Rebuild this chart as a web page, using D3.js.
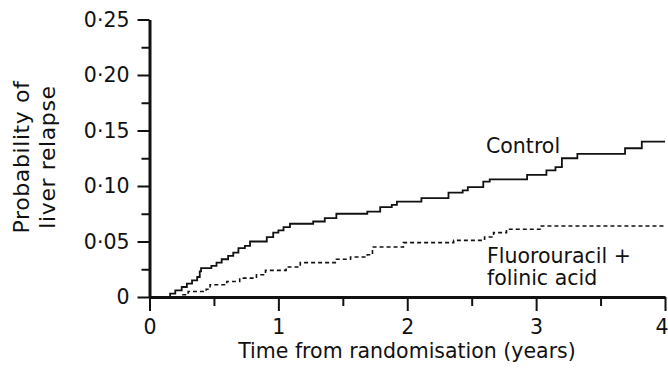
<!DOCTYPE html>
<html>
<head>
<meta charset="utf-8">
<script src="https://cdn.jsdelivr.net/npm/d3@7"></script>
<style>
  body { margin: 0; background: #fff; }
  svg text { font-family: "DejaVu Sans", sans-serif; fill: #111; }
</style>
</head>
<body>
<div id="canvas"></div>
<script>
// control arm (years, probability)
var controlTime = [0, 0.08, 0.16, 0.20, 0.25, 0.29, 0.33, 0.37, 0.39, 0.40, 0.48, 0.52, 0.56, 0.61, 0.65, 0.69, 0.74, 0.78, 0.91, 0.96, 1.00, 1.04, 1.09, 1.27, 1.36, 1.45, 1.69, 1.79, 1.88, 1.92, 2.11, 2.32, 2.43, 2.47, 2.59, 2.64, 2.93, 3.08, 3.15, 3.20, 3.32, 3.69, 3.82, 4.0]
var controlProb = [0, 0, 0.003, 0.006, 0.009, 0.012, 0.015, 0.018, 0.023, 0.026, 0.028, 0.031, 0.034, 0.037, 0.040, 0.044, 0.046, 0.050, 0.054, 0.058, 0.060, 0.063, 0.066, 0.068, 0.071, 0.075, 0.077, 0.081, 0.083, 0.086, 0.089, 0.094, 0.096, 0.099, 0.104, 0.106, 0.110, 0.114, 0.117, 0.125, 0.129, 0.134, 0.140, 0.140]

// fluorouracil + folinic acid arm
var fufaTime = [0, 0.16, 0.26, 0.30, 0.44, 0.47, 0.60, 0.70, 0.83, 0.90, 1.06, 1.17, 1.45, 1.56, 1.69, 1.73, 1.97, 2.36, 2.60, 2.67, 2.77, 3.03, 4.0]
var fufaProb = [0, 0, 0.002, 0.005, 0.007, 0.011, 0.014, 0.017, 0.020, 0.024, 0.027, 0.031, 0.034, 0.036, 0.038, 0.045, 0.049, 0.051, 0.054, 0.058, 0.061, 0.064, 0.064]

var yMajor = [0, 0.05, 0.10, 0.15, 0.20, 0.25]
var yMinor = [0.025, 0.075, 0.125, 0.175, 0.225]
var xMajor = [0, 1, 2, 3, 4]
var xMinor = [0.5, 1.5, 2.5, 3.5]

var width = 668
var height = 373
var plotLeft = 149.5, plotRight = 665, plotTop = 19.5, plotBottom = 297
var fontSize = 20.5

var svg = d3.select("#canvas")
    .append("svg")
    .attr("width", width)
    .attr("height", height)

var xScale = d3.scaleLinear().domain([0, 4]).range([plotLeft, plotRight])
var yScale = d3.scaleLinear().domain([0, 0.25]).range([plotBottom, plotTop])

function fmt(d) {
    if (d === 0) return "0"
    return d.toFixed(2).replace(".", "\u00B7")
}

// minor ticks first, then the major axes on top
svg.append("g")
    .attr("transform", `translate(${plotLeft},0)`)
    .call(d3.axisLeft(yScale).tickValues(yMinor).tickSize(8).tickSizeOuter(0).tickFormat(""))
    .call(g => g.select(".domain").remove())

svg.append("g")
    .attr("transform", `translate(0,${plotBottom})`)
    .call(d3.axisBottom(xScale).tickValues(xMinor).tickSize(9).tickSizeOuter(0).tickFormat(""))
    .call(g => g.select(".domain").remove())

var yAxis = svg.append("g")
    .attr("transform", `translate(${plotLeft},0)`)
    .call(d3.axisLeft(yScale).tickValues(yMajor).tickSize(12).tickSizeOuter(0).tickPadding(8).tickFormat(fmt))

var xAxis = svg.append("g")
    .attr("transform", `translate(0,${plotBottom})`)
    .call(d3.axisBottom(xScale).tickValues(xMajor).tickSize(14).tickSizeOuter(0).tickPadding(8).tickFormat(d3.format("d")))

svg.selectAll(".tick line").attr("stroke", "#111").attr("stroke-width", 2)
svg.selectAll(".domain").attr("stroke", "#111").attr("stroke-width", 3)
svg.selectAll(".tick text").attr("font-size", fontSize).style("font-family", "DejaVu Sans").attr("fill", "#111")

// last x label sits against the right edge
xAxis.selectAll(".tick text").filter(d => d === 4).attr("text-anchor", "end").attr("x", 3)

var line = d3.line()
    .x(d => xScale(d[0]))
    .y(d => yScale(d[1]))
    .curve(d3.curveStepAfter)

svg.append("path")
    .datum(d3.zip(controlTime, controlProb))
    .attr("d", line)
    .attr("fill", "none")
    .attr("stroke", "#111")
    .attr("stroke-width", 1.8)

svg.append("path")
    .datum(d3.zip(fufaTime, fufaProb))
    .attr("d", line)
    .attr("fill", "none")
    .attr("stroke", "#111")
    .attr("stroke-width", 1.6)
    .attr("stroke-dasharray", "4,3")

// labels
svg.append("text").attr("x", 486).attr("y", 153).attr("font-size", fontSize).text("Control")
svg.append("text").attr("x", 487).attr("y", 263).attr("font-size", fontSize).text("Fluorouracil +")
svg.append("text").attr("x", 487).attr("y", 285).attr("font-size", fontSize).text("folinic acid")

svg.append("text")
    .attr("x", 407)
    .attr("y", 358)
    .attr("text-anchor", "middle")
    .attr("font-size", fontSize)
    .text("Time from randomisation (years)")

var yTitle = svg.append("text")
    .attr("transform", "translate(29,157) rotate(-90)")
    .attr("text-anchor", "middle")
    .attr("font-size", 22)
    .attr("letter-spacing", 0.6)
yTitle.append("tspan").attr("x", 0).attr("y", 0).text("Probability of")
yTitle.append("tspan").attr("x", 0).attr("y", 26).text("liver relapse")
</script>
</body>
</html>
